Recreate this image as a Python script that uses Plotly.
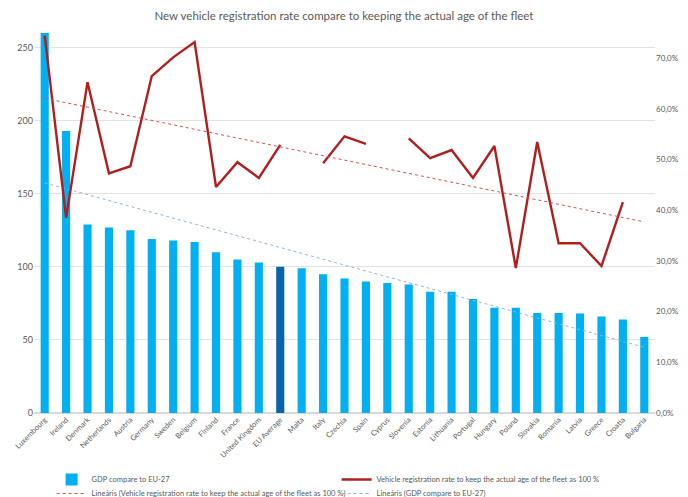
import numpy as np
import plotly.graph_objects as go

countries = [
    "Luxembourg", "Ireland", "Denmark", "Netherlands", "Austria", "Germany",
    "Sweden", "Belgium", "Finland", "France", "United Kingdom", "EU Average",
    "Malta", "Italy", "Czechia", "Spain", "Cyprus", "Slovenia", "Estonia",
    "Lithuania", "Portugal", "Hungary", "Poland", "Slovakia", "Romania",
    "Latvia", "Greece", "Croatia", "Bulgaria",
]

# GDP per capita relative to EU-27 (EU = 100)
gdp_vs_eu = [
    261, 193, 129, 127, 125, 119, 118, 117, 110, 105, 103, 100,
    99, 95, 92, 90, 89, 88, 83, 83, 78, 72, 72, 68.5, 68.5,
    68, 66, 64, 52,
]

# Registration rate needed to keep the current fleet age (share)
registration_rate = [
    0.745, 0.385, 0.653, 0.473, 0.487, 0.665, 0.702, 0.732, 0.446, 0.495,
    0.464, 0.529, None, 0.493, 0.546, 0.531, None, 0.542, 0.503, 0.519,
    0.464, 0.527, 0.286, 0.535, 0.335, 0.335, 0.290, 0.416, None,
]

name_gdp = "GDP compare to EU-27"
name_reg = "Vehicle registration rate to keep the actual age of the fleet as 100 %"

bar_colors = ["#0a64ad" if c == "EU Average" else "#00b0f0" for c in countries]


def linear_trend(values):
    idx = np.arange(len(values))
    mask = np.array([v is not None for v in values])
    y = np.array([v if v is not None else np.nan for v in values], dtype=float)
    slope, intercept = np.polyfit(idx[mask], y[mask], 1)
    return list(slope * idx + intercept)


trend_reg = linear_trend(registration_rate)
trend_gdp = linear_trend(gdp_vs_eu)

fig = go.Figure()

fig.add_trace(go.Bar(
    x=countries, y=gdp_vs_eu, name=name_gdp,
    marker=dict(color=bar_colors, line=dict(width=0)),
    yaxis="y", legend="legend",
))
fig.add_trace(go.Scatter(
    x=countries, y=registration_rate, name=name_reg, mode="lines",
    line=dict(color="#b01e1e", width=2.4), connectgaps=False,
    yaxis="y2", legend="legend",
))
fig.add_trace(go.Scatter(
    x=countries, y=trend_reg,
    name="Lineáris (Vehicle registration rate to keep the actual age of the fleet as 100 %)",
    mode="lines", line=dict(color="#d9504f", width=1, dash="dot"),
    yaxis="y2", legend="legend2",
))
fig.add_trace(go.Scatter(
    x=countries, y=trend_gdp, name="Lineáris (GDP compare to EU-27)",
    mode="lines", line=dict(color="#8fb4e3", width=1, dash="dot"),
    yaxis="y", legend="legend2",
))

grey = "#595959"
legend_common = dict(
    orientation="h", xref="container", yref="container",
    x=0.075, xanchor="left", yanchor="top",
    entrywidth=240, entrywidthmode="pixels",
    font=dict(size=7.5, color=grey), itemwidth=30,
    bgcolor="rgba(0,0,0,0)",
)

fig.update_layout(
    width=688, height=497,
    margin=dict(l=34, r=33, t=33, b=84, autoexpand=False),
    paper_bgcolor="white", plot_bgcolor="white",
    font=dict(family="Lato, 'Open Sans', sans-serif", color=grey, size=8),
    separators=", ",
    title=dict(
        text="New vehicle registration rate compare to keeping the actual age of the fleet",
        x=0.5, xanchor="center", y=1 - 16 / 497, yanchor="middle",
        font=dict(size=11.5, color=grey),
    ),
    bargap=0.62,
    showlegend=True,
    legend=dict(legend_common, y=1 - 465 / 497),
    legend2=dict(legend_common, y=1 - 479 / 497),
    xaxis=dict(
        tickangle=-45, tickfont=dict(size=7.5, color=grey),
        showgrid=False, showline=False, ticks="",
        range=[-0.5, len(countries) - 0.5],
    ),
    yaxis=dict(
        range=[0, 260], dtick=50, tickfont=dict(size=9, color=grey),
        showgrid=True, gridcolor="#e3e3e3", gridwidth=1,
        zeroline=True, zerolinecolor="#d9d9d9", showline=False,
    ),
    yaxis2=dict(
        overlaying="y", side="right", range=[0, 0.75], dtick=0.1,
        tickformat=".1%", tickfont=dict(size=8, color=grey),
        showgrid=False, zeroline=False, showline=False,
    ),
)

fig.write_html("out.html")
